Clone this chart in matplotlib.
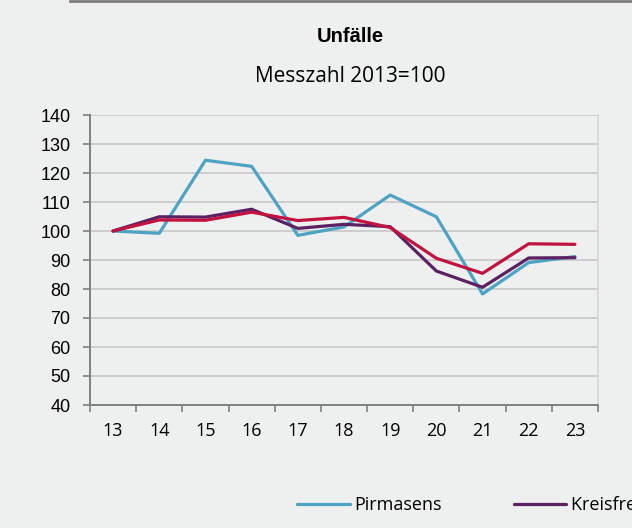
import matplotlib.pyplot as plt
from matplotlib.lines import Line2D
import numpy as np

years = ["13", "14", "15", "16", "17", "18", "19", "20", "21", "22", "23"]
pirmasens = [100, 99.2, 124.4, 122.3, 98.5, 101.4, 112.4, 104.9, 78.3, 89.1, 91.2]
kreisfrei = [100, 104.9, 104.8, 107.5, 100.9, 102.3, 101.5, 86.2, 80.6, 90.7, 90.8]
land = [100, 103.8, 103.7, 106.5, 103.6, 104.7, 101.2, 90.6, 85.4, 95.6, 95.4]
names = ["Pirmasens", "Kreisfreie Städte", "Rheinland-Pfalz"]
colors = ["#4EA3C4", "#5B2162", "#C2123F"]

bg = "#EEEFEF"
fig = plt.figure(figsize=(6.32, 5.28), dpi=100, facecolor=bg)
ax = fig.add_axes([90/632, 123/528, 508/632, 290/528], facecolor=bg)

x = np.arange(len(years))
for vals, c, n in zip([pirmasens, kreisfrei, land], colors, names):
    ax.plot(x, vals, color=c, lw=2.3, label=n, solid_capstyle="round", zorder=3)

ax.set_xlim(-0.5, len(years) - 0.5)
ax.set_ylim(40, 140)
ax.set_yticks(range(40, 141, 10))
ax.set_xticks(x)
ax.set_xticklabels(years, fontsize=13, family="Open Sans")
ax.set_xticks(np.arange(-0.5, len(years)), minor=True)
ax.tick_params(axis="x", which="major", length=0, pad=12)
ax.tick_params(axis="x", which="minor", length=5, color="#808080", width=1.2)
ax.tick_params(axis="y", length=5, color="#808080", width=1.2, labelsize=13, pad=9)
for lab in ax.get_yticklabels():
    lab.set_family("Liberation Sans")
ax.grid(axis="y", color="#C8C8C8", lw=1.2, zorder=0)
ax.set_axisbelow(True)
ax.spines["top"].set_visible(False)
ax.spines["right"].set_color("#D6D6D6")
ax.spines["right"].set_linewidth(1.2)
for s in ["left", "bottom"]:
    ax.spines[s].set_color("#808080")
    ax.spines[s].set_linewidth(1.4)

fig.text(350/632, 1 - 37/528, "Unfälle", ha="center", va="center",
         fontsize=14.5, fontweight="bold", family="Liberation Sans")
fig.text(350/632, 1 - 77/528, "Messzahl 2013=100", ha="center", va="center",
         fontsize=15, family="Open Sans")

fig.add_artist(Line2D([70/632, 1], [1 - 1/528, 1 - 1/528], color="#7F7F7F", lw=2))

fig.legend(loc="center left", bbox_to_anchor=(290/632, 1 - 505/528), ncol=3,
           frameon=False, prop={"family": "Open Sans", "size": 13},
           handlelength=2.9, handletextpad=0.25, columnspacing=4.0, borderaxespad=0)

fig.savefig("out.png", dpi=100, facecolor=bg)
